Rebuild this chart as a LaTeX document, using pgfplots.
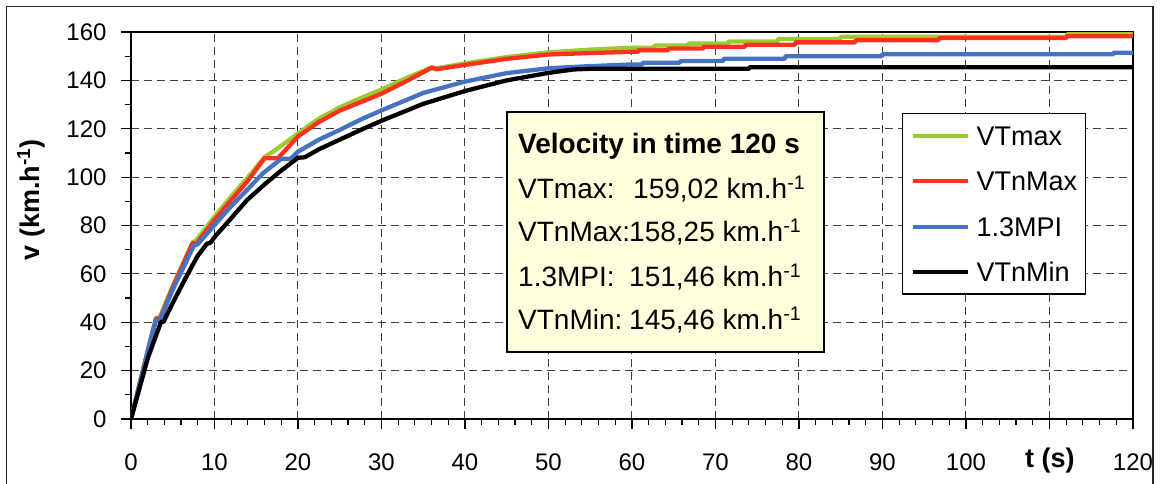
\documentclass[border=0pt]{standalone}
\usepackage{pgfplots}
\pgfplotsset{compat=1.18}
\usepackage{fontspec}
\setmainfont{Liberation Sans}

\definecolor{cgreen}{RGB}{154,204,50}
\definecolor{cred}{RGB}{250,50,30}
\definecolor{cblue}{RGB}{70,114,196}
\definecolor{boxfill}{RGB}{255,255,221}

\begin{document}
\begin{tikzpicture}
\begin{axis}[
  at={(0pt,0pt)}, anchor=south west,
  scale only axis, width=1002pt, height=387pt,
  xmin=0, xmax=120, ymin=0, ymax=160,
  xtick={0,10,...,120}, ytick={0,20,...,160},
  xticklabels={0,10,20,30,40,50,60,70,80,90,100,,120},
  minor x tick num=4, minor y tick num=1,
  tick align=outside, xtick pos=bottom, ytick pos=left,
  major tick length=10pt, minor tick length=6pt,
  tick style={black, line width=1.2pt},
  axis line style={black, line width=1.5pt},
  grid=major,
  major grid style={dash pattern=on 8pt off 5pt, black!75, line width=1pt},
  ticklabel style={font=\fontsize{24}{28}\selectfont},
  /pgf/number format/assume math mode=true,
  xticklabel style={yshift=-21pt},
  yticklabel style={xshift=-11pt},
  xlabel={t (s)},
  ylabel={v (km.h\textsuperscript{-1})},
  label style={font=\bfseries\fontsize{27}{32}\selectfont},
  xlabel style={at={([yshift=-42pt]rel axis cs:0.917,0)}, anchor=center},
  ylabel style={at={([xshift=-100pt]rel axis cs:0,0.566)}, anchor=center},
  legend style={at={(rel axis cs:0.7695,0.7907)}, anchor=north west,
    draw=black, line width=1.2pt, fill=white,
    font=\fontsize{27}{30}\selectfont,
    nodes={inner sep=0pt, text height=19pt, text depth=0pt},
    row sep=26.5pt, inner xsep=8pt, inner ysep=12.5pt,
    /tikz/every odd column/.append style={column sep=7pt}},
  legend cell align=left,
  legend image code/.code={\draw[#1, line width=4pt] (0pt,0pt) -- (55pt,0pt);},
  every axis plot/.append style={line width=4.3pt, line join=round},
]

\addplot[cgreen] coordinates {
 (0,0) (1,14) (2,28) (3.0,41.8) (3.4,41.8) (5,55) (7.4,73.2) (7.7,73.4)
 (10,83.6) (12,92) (13.9,99.5) (16,108.3) (17,110.5) (20,118) (22.5,124.2)
 (25,128.8) (27,131.9) (30,136.2) (33,141) (36,145.4) (36.6,145.0)
 (40,147.0) (45,149.6) (50,151.6) (55,152.7) (60,153.5)
 (62.6,153.5) (62.7,154.4) (66.7,154.4) (66.8,155.2) (71.5,155.2)
 (71.6,156.1) (77.4,156.1) (77.5,157.1) (84.9,157.1) (85,158.0)
 (112,158.0) (112.1,159.02) (120,159.02)
};
\addlegendentry{VTmax}

\addplot[cred] coordinates {
 (0,0) (1,14) (2,28) (3.0,41.5) (3.5,41.5) (5,54.5) (7.4,72.8) (7.9,72.8)
 (10,82.2) (12,90.5) (13.9,98.1) (16,107.8) (17.6,107.8) (20,116.8)
 (22.5,122.8) (25,127.5) (28.6,132.5) (30,134.5) (33,139.7) (36,145.2)
 (36.6,144.6) (40,146.4) (45,148.9) (50,150.7) (55,151.3) (60,151.8)
 (60.7,151.8) (60.8,152.5) (64.3,152.5) (64.4,153.2) (68.5,153.2)
 (68.6,153.9) (73.5,153.9) (73.6,154.7) (79.5,154.7) (79.6,155.7)
 (86.7,155.7) (86.8,156.6) (96.7,156.6) (96.8,157.5) (112,157.5)
 (112.1,158.25) (120,158.25)
};
\addlegendentry{VTnMax}

\addplot[cblue] coordinates {
 (0,0) (1,14) (2,28) (3.0,41) (3.5,41) (5,53.5) (7.5,71.5) (8,72.3)
 (10,80.2) (12,88) (13.9,94.7) (15.8,101.6) (18,107.6) (19.1,107.6)
 (20,110.5) (22.5,115.5) (25,119.5) (27.5,123.8) (30,127.6) (35,134.8)
 (40,139.5) (45,143) (50,145) (55,145.9) (60,146.6)
 (61.2,146.6) (61.3,147.3) (65.7,147.3) (65.8,148.0) (70.9,148.0)
 (71,148.9) (78.3,148.9) (78.4,150.0) (89.9,150.0) (90,150.8)
 (117.6,150.8) (117.7,151.46) (120,151.46)
};
\addlegendentry{1.3MPI}

\addplot[black] coordinates {
 (0,0) (1,12.5) (2,25) (3.6,40.2) (3.9,40.2) (5,48) (6.5,58) (7.9,67)
 (9.1,72.5) (9.5,72.8) (10,75.2) (12,83) (13.9,90.5) (16,97) (17.8,102.2)
 (20,108) (20.8,108.2) (22.5,111.5) (25,115.5) (27.5,119.5) (30,123.3)
 (35,130.3) (40,135.6) (45,140) (50,143.1) (53,144.5) (55,144.8)
 (74,144.8) (74.1,145.46) (120,145.46)
};
\addlegendentry{VTnMin}
\end{axis}

% page = the chart area around the plot box
\pgfresetboundingbox
\useasboundingbox (-131pt,-65pt) rectangle (1029pt,419pt);

% chart frame
\begin{scope}
\clip (-131pt,-65pt) rectangle (1029pt,419pt);
\draw[line width=1.5pt, black!85] (-124.5pt,-90pt) rectangle (1022pt,412.3pt);
\end{scope}

% summary box
\draw[line width=1.5pt, fill=boxfill] (376pt,67pt) rectangle (693pt,307pt);
\begin{scope}[every node/.style={anchor=base west, inner sep=0pt, font=\fontsize{28}{32}\selectfont}]
\node[font=\bfseries\fontsize{28}{32}\selectfont] at (387pt,265.7pt) {Velocity in time 120 s};
\node at (387pt,220pt) {VTmax:};
\node at (502pt,220pt) {159,02 km.h\textsuperscript{-1}};
\node at (387pt,177.3pt) {VTnMax:};
\node at (498pt,177.3pt) {158,25 km.h\textsuperscript{-1}};
\node at (387pt,132.3pt) {1.3MPI:};
\node at (498pt,132.3pt) {151,46 km.h\textsuperscript{-1}};
\node at (387pt,89pt) {VTnMin:};
\node at (498pt,89pt) {145,46 km.h\textsuperscript{-1}};
\end{scope}
\end{tikzpicture}
\end{document}
